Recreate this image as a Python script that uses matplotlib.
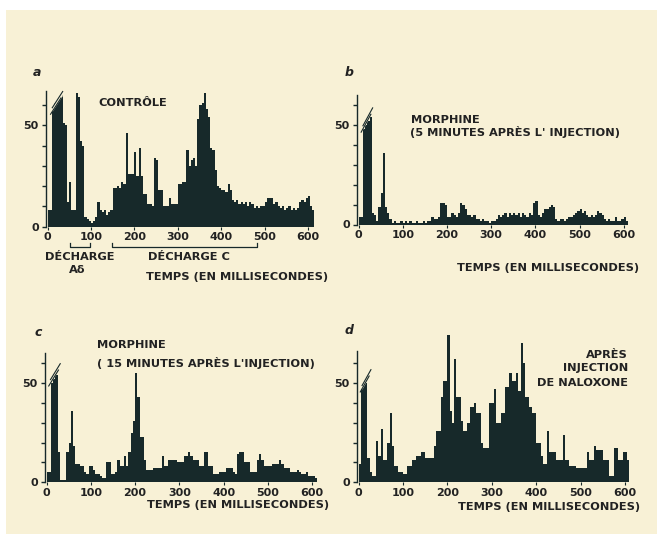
import numpy as np
import matplotlib
matplotlib.use("Agg")
import matplotlib.pyplot as plt

# spike counts per 5 ms bin
bin_ms = 5
tick_ms = [0, 100, 200, 300, 400, 500, 600]

controle = [
    8, 8, 59, 61, 62, 63, 65, 51, 50, 12,
    22, 8, 8, 66, 64, 42, 40, 5, 4, 3,
    2, 3, 5, 12, 8, 7, 8, 6, 7, 8,
    19, 19, 20, 19, 22, 21, 46, 26, 26, 26,
    37, 25, 39, 25, 16, 16, 11, 11, 10, 34,
    33, 18, 18, 10, 10, 10, 14, 11, 11, 11,
    21, 21, 22, 22, 38, 30, 33, 34, 30, 53,
    60, 61, 66, 58, 54, 39, 38, 28, 20, 19,
    18, 18, 17, 21, 18, 13, 12, 13, 11, 12,
    11, 12, 10, 12, 11, 9, 10, 9, 10, 10,
    12, 14, 14, 14, 11, 12, 10, 9, 10, 8,
    9, 10, 8, 9, 8, 9, 12, 13, 12, 14,
    15, 10, 8,
]

morphine_5 = [
    4, 4, 48, 50, 52, 54, 6, 5, 2, 9,
    16, 36, 9, 6, 3, 1, 2, 1, 1, 2,
    1, 2, 1, 2, 1, 1, 2, 1, 1, 2,
    1, 2, 2, 4, 3, 3, 4, 11, 11, 10,
    4, 4, 6, 5, 4, 6, 11, 10, 8, 5,
    5, 4, 5, 3, 3, 2, 3, 2, 2, 1,
    2, 2, 3, 5, 4, 5, 6, 4, 6, 5,
    6, 5, 6, 4, 6, 5, 4, 6, 5, 11,
    12, 5, 4, 6, 8, 8, 9, 10, 9, 3,
    2, 3, 3, 2, 3, 4, 4, 5, 6, 7,
    8, 6, 7, 5, 4, 5, 4, 5, 7, 6,
    5, 3, 2, 3, 2, 2, 4, 2, 2, 3,
    4, 2,
]

morphine_15 = [
    5, 5, 50, 52, 54, 15, 1, 1, 1, 15,
    20, 36, 18, 9, 9, 8, 8, 5, 4, 8,
    8, 6, 4, 4, 3, 2, 2, 10, 10, 4,
    4, 5, 11, 8, 8, 13, 8, 15, 25, 31,
    55, 43, 23, 23, 11, 6, 6, 6, 7, 7,
    7, 7, 13, 8, 8, 11, 11, 11, 11, 10,
    10, 10, 13, 13, 15, 13, 11, 11, 11, 8,
    8, 15, 15, 8, 8, 4, 4, 4, 5, 5,
    5, 7, 7, 7, 5, 4, 14, 15, 15, 10,
    10, 10, 5, 5, 5, 11, 14, 11, 8, 8,
    8, 8, 9, 9, 9, 11, 9, 7, 7, 7,
    5, 5, 5, 6, 5, 4, 4, 5, 3, 3,
    3, 2,
]

naloxone = [
    9, 48, 49, 50, 12, 5, 3, 3, 21, 13,
    27, 11, 11, 20, 35, 18, 8, 8, 5, 5,
    4, 4, 8, 8, 11, 11, 13, 13, 15, 15,
    12, 12, 12, 12, 18, 26, 26, 43, 51, 51,
    74, 36, 30, 62, 43, 43, 31, 26, 26, 30,
    38, 38, 40, 35, 35, 20, 17, 17, 17, 40,
    40, 47, 30, 30, 35, 35, 48, 48, 55, 51,
    51, 55, 46, 70, 60, 43, 43, 38, 35, 35,
    20, 20, 13, 9, 9, 26, 15, 15, 15, 11,
    11, 11, 24, 11, 11, 8, 8, 8, 7, 7,
    7, 7, 7, 15, 11, 11, 18, 16, 16, 16,
    11, 11, 11, 3, 3, 17, 17, 11, 11, 15,
    15, 11,
]

W, H = 657, 534
cream = "#f8f1d6"
ink = "#17292a"

fig = plt.figure(figsize=(W / 100, H / 100), dpi=100)
fig.patch.set_facecolor(cream)
# white strips along the top and left edges of the scan
fig.patches.append(plt.Rectangle((0, 1 - 10 / H), 1, 10 / H, transform=fig.transFigure,
                                 facecolor="white", edgecolor="none", zorder=-5))
fig.patches.append(plt.Rectangle((0, 0), 6 / W, 1, transform=fig.transFigure,
                                 facecolor="white", edgecolor="none", zorder=-5))

font = dict(family="DejaVu Sans", color="#222222", fontsize=8.2, fontweight="bold")


def fig_text(x, y, s, **kw):
    opts = dict(font)
    opts.update(kw)
    fig.text(x / W, 1 - y / H, s, **opts)


def panel(values, x0, xs, y0, ys, top, brk):
    # x0/y0: pixel position of (0 ms, 0 spikes); xs/ys: pixels per unit
    xmin, xmax, ymax = -4, 625, 80
    rect = [(x0 + xmin * xs) / W, (H - y0) / H,
            (xmax - xmin) * xs / W, ymax * ys / H]
    ax = fig.add_axes(rect)
    ax.set_facecolor("none")
    edges = np.arange(len(values) + 1) * bin_ms
    ax.stairs(values, edges, fill=True, color=ink, lw=0)
    ax.set_xlim(xmin, xmax)
    ax.set_ylim(0, ymax)
    for side in ["top", "right", "bottom"]:
        ax.spines[side].set_visible(False)
    ax.spines["left"].set_bounds(0, top)
    ax.spines["left"].set_color(ink)
    ax.spines["left"].set_linewidth(1.0)
    ax.set_yticks(range(0, top, 10))
    ax.set_yticklabels(["0", "", "", "", "", "50", ""][: len(range(0, top, 10))])
    ax.set_xticks(tick_ms)
    ax.set_xticklabels([str(t) for t in tick_ms])
    ax.tick_params(axis="y", length=3, width=1, pad=2, colors=ink,
                   labelsize=8, labelcolor="#222222")
    ax.tick_params(axis="x", length=2, width=0.8, pad=2, colors=ink,
                   labelsize=8, labelcolor="#222222")
    for lab in ax.get_xticklabels() + ax.get_yticklabels():
        lab.set_fontweight("bold")
    # the "//" break drawn across the clipped first bars
    (bx0, by0), (bx1, by1) = brk
    ax.plot([bx0, bx1], [by0, by1], color=cream, lw=2.2, solid_capstyle="butt")
    ax.plot([bx0 + 2, bx1 + 2], [by0 + 1.6, by1 + 1.6], color=ink, lw=0.8)
    ax.plot([bx0 - 2, bx1 - 2], [by0 - 1.6, by1 - 1.6], color=ink, lw=0.8)
    return ax


panel(controle, 47.5, 0.434, 226.7, 2.03, 67, ((9, 57), (33, 65)))
panel(morphine_5, 358.5, 0.442, 224.5, 1.99, 65, ((8, 48), (30, 57)))
panel(morphine_15, 46.5, 0.443, 482.3, 1.99, 65, ((7, 50), (29, 58)))
panel(naloxone, 358.5, 0.444, 482.3, 1.99, 66, ((6, 47), (26, 55)))

letter = dict(fontsize=9, fontweight="bold", style="italic", va="center")
fig_text(33, 73, "a", **letter)
fig_text(345, 72, "b", **letter)
fig_text(35, 333, "c", **letter)
fig_text(345, 331, "d", **letter)

fig_text(98, 103, "CONTRÔLE", va="center")
fig_text(411, 120, "MORPHINE", va="center")
fig_text(410, 132, "(5 MINUTES APRÈS L' INJECTION)", va="center")
fig_text(97, 345, "MORPHINE", va="center")
fig_text(97, 363, "( 15 MINUTES APRÈS L'INJECTION)", va="center")
fig_text(628, 355, "APRÈS", va="center", ha="right")
fig_text(628, 368, "INJECTION", va="center", ha="right")
fig_text(628, 383, "DE NALOXONE", va="center", ha="right")

fig_text(146, 277, "TEMPS (EN MILLISECONDES)", va="center")
fig_text(457, 268, "TEMPS (EN MILLISECONDES)", va="center")
fig_text(147, 505, "TEMPS (EN MILLISECONDES)", va="center")
fig_text(458, 507, "TEMPS (EN MILLISECONDES)", va="center")

fig_text(45, 257, "DÉCHARGE", va="center")
fig_text(77, 270, "Aδ", va="center", ha="center")
fig_text(148, 257, "DÉCHARGE C", va="center")

# brackets under panel a marking the two discharges
for xa, xb in [(70, 90), (112, 257)]:
    fig.lines.append(plt.Line2D([xa / W, xa / W, xb / W, xb / W],
                                [1 - 243 / H, 1 - 247 / H, 1 - 247 / H, 1 - 243 / H],
                                transform=fig.transFigure, color=ink, lw=0.9))

fig.savefig("out.png", dpi=100, facecolor=fig.get_facecolor())
